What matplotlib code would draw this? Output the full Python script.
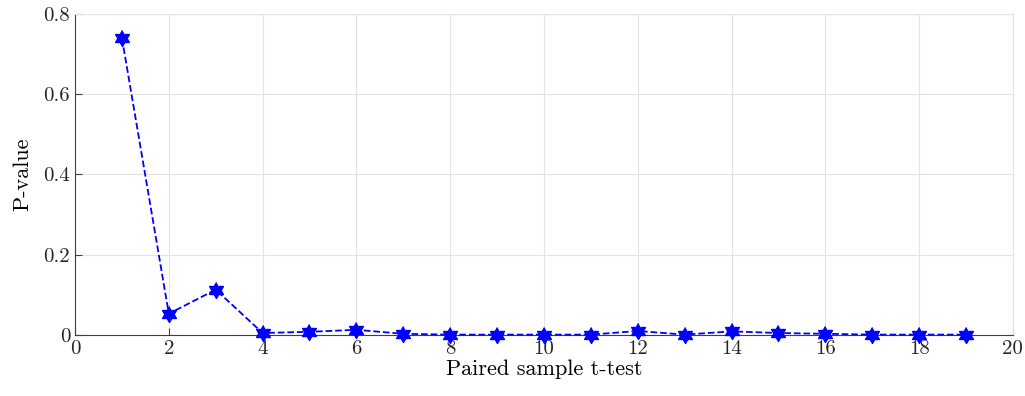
import matplotlib
matplotlib.use("Agg")
import numpy as np
import matplotlib.pyplot as plt

# donnees
tests = list(range(1, 20))
p_values = [0.740, 0.053, 0.113, 0.005, 0.008, 0.013, 0.003, 0.001, 0.001, 0.001,
            0.001, 0.010, 0.001, 0.009, 0.005, 0.003, 0.001, 0.001, 0.001]
x_ticks = list(range(0, 21, 2))
y_ticks = [0, 0.2, 0.4, 0.6, 0.8]

plt.rcParams['font.family'] = 'cmr10'
plt.rcParams['mathtext.fontset'] = 'cm'
plt.rcParams['axes.formatter.use_mathtext'] = True

# hexagramme facon matlab ('h')
ang = np.pi / 2 + np.arange(12) * np.pi / 6
rad = np.where(np.arange(12) % 2 == 0, 1.0, 1 / np.sqrt(3))
hexa = np.column_stack([rad * np.cos(ang), rad * np.sin(ang)])

fig = plt.figure(figsize=(10.25, 3.96), dpi=100)
ax = fig.add_axes([0.0732, 0.154, 0.915, 0.811])

ax.plot(tests, p_values, linestyle='--', color='#0000ff', linewidth=1.3,
        marker=hexa, markersize=11.5, markerfacecolor='#0000ff',
        markeredgecolor='#0000ff', zorder=3, clip_on=False)

ax.set_xlim(0, 20)
ax.set_ylim(0, 0.8)
ax.set_xticks(x_ticks)
ax.set_yticks(y_ticks)
ax.set_xticklabels([str(t) for t in x_ticks])
ax.set_yticklabels(['0', '0.2', '0.4', '0.6', '0.8'])

ax.grid(True, color='#e3e3e3', linewidth=0.8)
ax.set_axisbelow(True)
for s in ['top', 'right']:
    ax.spines[s].set_color('#e3e3e3')
for s in ['left', 'bottom']:
    ax.spines[s].set_color('#404040')
    ax.spines[s].set_linewidth(0.8)

ax.tick_params(direction='in', length=5, labelsize=15, colors='#404040',
               labelcolor='#262626', top=False, right=False)
ax.set_xlabel('Paired sample t-test', fontsize=16, labelpad=1)
ax.set_ylabel('P-value', fontsize=16, labelpad=8)

fig.savefig('out.png', dpi=100)
